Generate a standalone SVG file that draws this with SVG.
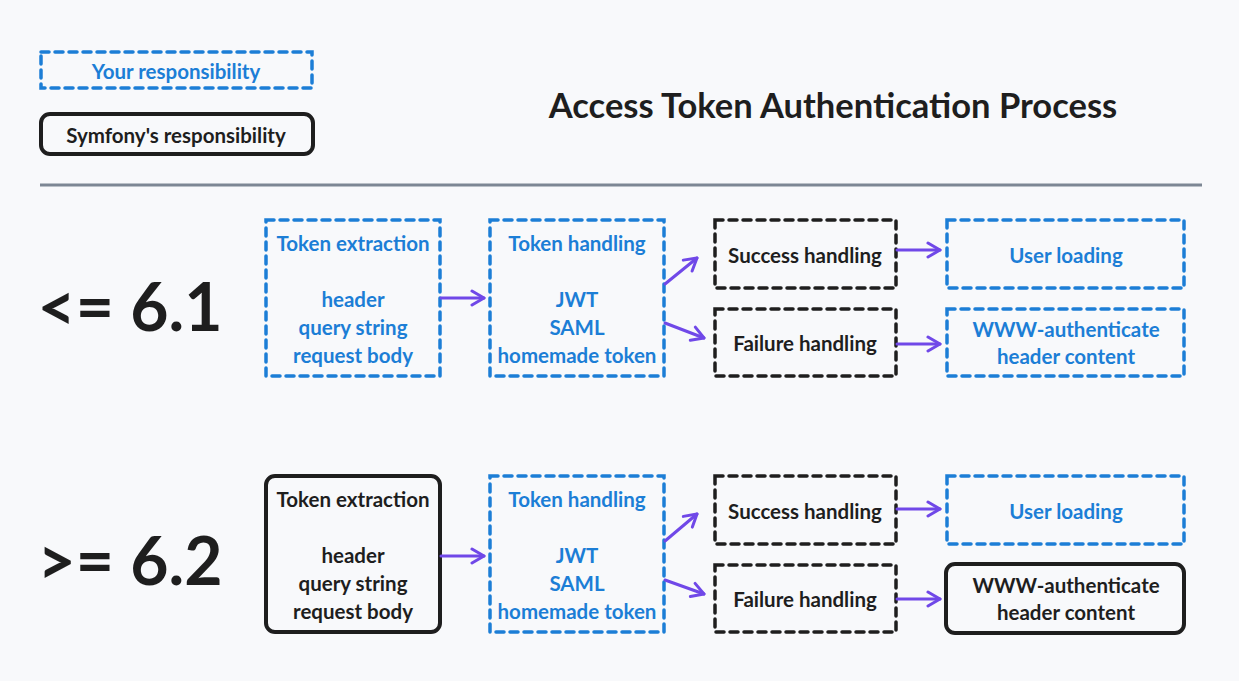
<svg xmlns="http://www.w3.org/2000/svg" width="1239" height="681" viewBox="0 0 1239 681">
<defs>
<style>
text{font-family:Lato,"Liberation Sans",sans-serif;font-weight:bold;text-anchor:middle;dominant-baseline:central}
.t{font-size:20.5px}
.b{fill:#1c7ed6}
.k{fill:#1e1e1e}
.db{fill:none;stroke:#1c7ed6;stroke-width:3.5;stroke-dasharray:8 6;stroke-linecap:round}
.dk{fill:none;stroke:#1e1e1e;stroke-width:3.5;stroke-dasharray:8 6;stroke-linecap:round}
.sk{fill:none;stroke:#1e1e1e;stroke-width:4}
.ar{fill:none;stroke:#7048e8;stroke-width:3;stroke-linecap:round;marker-end:url(#ah)}
</style>
<marker id="ah" viewBox="0 0 20 20" refX="18" refY="10" markerWidth="20" markerHeight="20" markerUnits="userSpaceOnUse" orient="auto">
<path d="M6 3 L18 10 L6 17" fill="none" stroke="#7048e8" stroke-width="3" stroke-linecap="round" stroke-linejoin="round"/>
</marker>
</defs>
<rect width="1239" height="681" fill="#f8f9fb"/>
<g id="legend-your">
<rect class="db" x="41" y="52" width="271" height="36"/>
<text class="t b" x="176" y="71">Your responsibility</text>
</g>
<g id="legend-symfony">
<rect class="sk" x="41" y="114" width="272" height="40" rx="9"/>
<text class="t k" x="176" y="135">Symfony's responsibility</text>
</g>
<g id="title">
<text class="k" x="833" y="104" font-size="34.5">Access Token Authentication Process</text>
</g>
<line x1="40" y1="185" x2="1202" y2="185" stroke="#7d8794" stroke-width="3"/>
<g id="label-61"><text class="k" x="130" y="305" font-size="66" font-weight="900">&lt;= 6.1</text></g>
<g id="label-62"><text class="k" x="130" y="559" font-size="66" font-weight="900">&gt;= 6.2</text></g>

<g id="r1-extraction">
<rect class="db" x="266" y="220" width="174" height="156"/>
<text class="t b" x="353" y="243">Token extraction</text>
<text class="t b" x="353" y="299">header</text>
<text class="t b" x="353" y="327">query string</text>
<text class="t b" x="353" y="355">request body</text>
</g>
<g id="r1-handling">
<rect class="db" x="490" y="220" width="174" height="156"/>
<text class="t b" x="577" y="243">Token handling</text>
<text class="t b" x="577" y="299">JWT</text>
<text class="t b" x="577" y="327">SAML</text>
<text class="t b" x="577" y="355">homemade token</text>
</g>
<g id="r1-success">
<rect class="dk" x="715" y="220" width="181" height="68"/>
<text class="t k" x="805" y="255">Success handling</text>
</g>
<g id="r1-failure">
<rect class="dk" x="715" y="309" width="181" height="67"/>
<text class="t k" x="805" y="343">Failure handling</text>
</g>
<g id="r1-user">
<rect class="db" x="947" y="220" width="237" height="68"/>
<text class="t b" x="1066" y="255">User loading</text>
</g>
<g id="r1-www">
<rect class="db" x="947" y="309" width="237" height="67"/>
<text class="t b" x="1066" y="329">WWW-authenticate</text>
<text class="t b" x="1066" y="356">header content</text>
</g>

<g id="r2-extraction">
<rect class="sk" x="266" y="476" width="174" height="156" rx="9"/>
<text class="t k" x="353" y="499">Token extraction</text>
<text class="t k" x="353" y="555">header</text>
<text class="t k" x="353" y="583">query string</text>
<text class="t k" x="353" y="611">request body</text>
</g>
<g id="r2-handling">
<rect class="db" x="490" y="476" width="174" height="156"/>
<text class="t b" x="577" y="499">Token handling</text>
<text class="t b" x="577" y="555">JWT</text>
<text class="t b" x="577" y="583">SAML</text>
<text class="t b" x="577" y="611">homemade token</text>
</g>
<g id="r2-success">
<rect class="dk" x="715" y="476" width="181" height="68"/>
<text class="t k" x="805" y="511">Success handling</text>
</g>
<g id="r2-failure">
<rect class="dk" x="715" y="565" width="181" height="67"/>
<text class="t k" x="805" y="599">Failure handling</text>
</g>
<g id="r2-user">
<rect class="db" x="947" y="476" width="237" height="68"/>
<text class="t b" x="1066" y="511">User loading</text>
</g>
<g id="r2-www">
<rect class="sk" x="946" y="564" width="238" height="69" rx="9"/>
<text class="t k" x="1066" y="585">WWW-authenticate</text>
<text class="t k" x="1066" y="612">header content</text>
</g>

<g id="connectors">
<path class="ar" d="M441 298 L484 298"/>
<path class="ar" d="M665 284 L697 258"/>
<path class="ar" d="M665 323 L704 338"/>
<path class="ar" d="M897 250 L940 250"/>
<path class="ar" d="M897 344 L940 344"/>
<path class="ar" d="M441 556 L484 556"/>
<path class="ar" d="M665 541 L697 514"/>
<path class="ar" d="M665 580 L704 594"/>
<path class="ar" d="M897 509 L940 509"/>
<path class="ar" d="M897 599 L940 599"/>
</g>
</svg>
